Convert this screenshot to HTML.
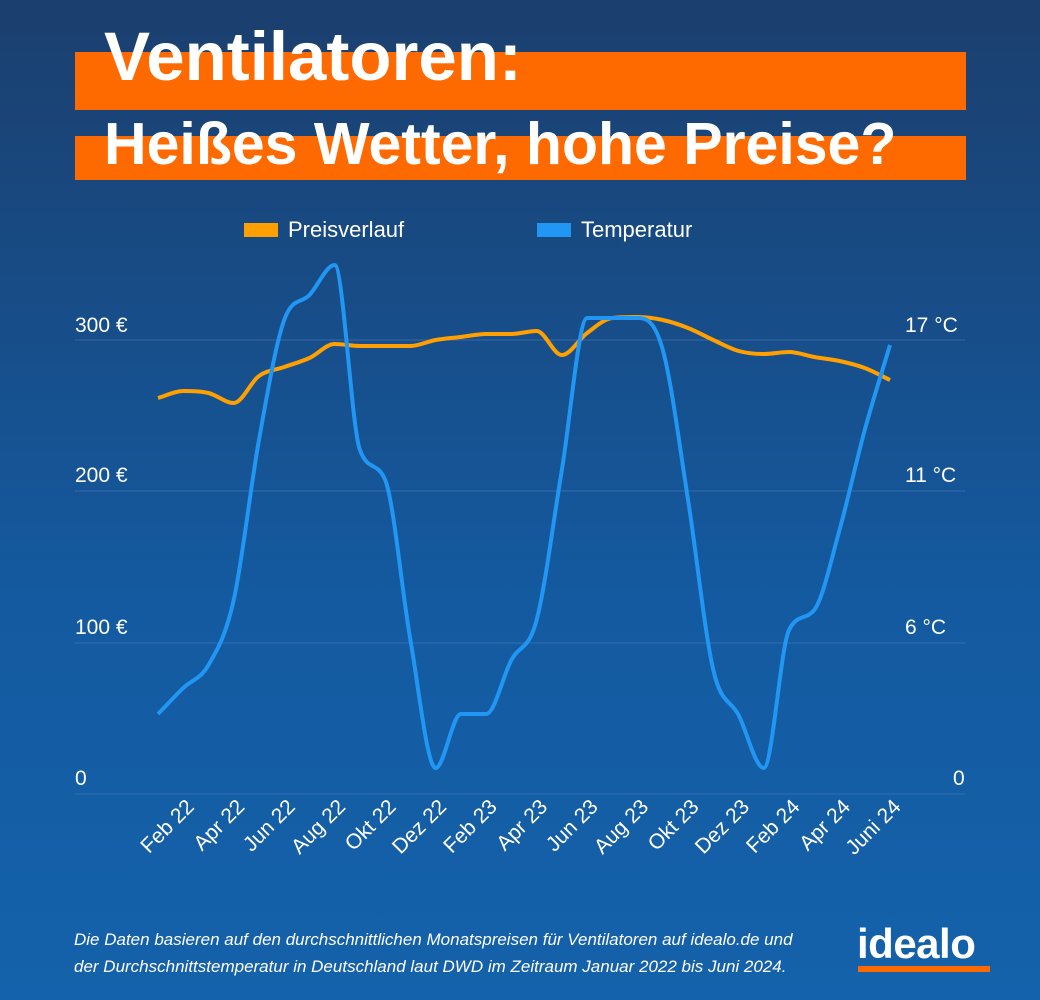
<!DOCTYPE html>
<html><head><meta charset="utf-8"><style>
html,body{margin:0;padding:0}
body{width:1040px;height:1000px;overflow:hidden;background:linear-gradient(#1b3f6e,#145aa0 60%,#1462ab);font-family:"Liberation Sans",sans-serif;color:#fff;position:relative}
.bar{position:absolute;left:75px;width:891px;background:#ff6a00}
.t{position:absolute;left:104px;font-weight:bold;white-space:nowrap}
.ax{position:absolute;font-size:21px}
.foot{position:absolute;left:74px;font-style:italic;font-size:17px;line-height:27px;top:926px}
</style></head><body>
<div class="bar" style="top:52px;height:58px"></div>
<div class="bar" style="top:136px;height:44px"></div>
<div class="t" style="top:17px;font-size:69px">Ventilatoren:</div>
<div class="t" style="top:110px;font-size:59px">Heißes Wetter, hohe Preise?</div>
<div style="position:absolute;left:244px;top:223px;width:34px;height:14px;background:#ffa000"></div>
<div class="ax" style="left:288px;top:217px;font-size:22px">Preisverlauf</div>
<div style="position:absolute;left:537px;top:223px;width:34px;height:14px;background:#2196f3"></div>
<div class="ax" style="left:581px;top:217px;font-size:22px">Temperatur</div>
<div class="ax" style="left:75px;top:314px">300 €</div>
<div class="ax" style="left:75px;top:464px">200 €</div>
<div class="ax" style="left:75px;top:616px">100 €</div>
<div class="ax" style="left:75px;top:767px">0</div>
<div class="ax" style="left:905px;top:314px">17 °C</div>
<div class="ax" style="left:905px;top:464px">11 °C</div>
<div class="ax" style="left:905px;top:616px">6 °C</div>
<div class="ax" style="left:953px;top:767px">0</div>
<svg width="1040" height="1000" style="position:absolute;left:0;top:0">
<g stroke="#4a7ab8" stroke-width="1" opacity="0.6">
<line x1="75" x2="965" y1="340" y2="340"/><line x1="75" x2="965" y1="491" y2="491"/>
<line x1="75" x2="965" y1="643" y2="643"/><line x1="75" x2="965" y1="794" y2="794"/>
</g>
<path id="pp" fill="none" stroke="#ffa000" stroke-width="4"/>
<path id="tp" fill="none" stroke="#2196f3" stroke-width="4"/>
<g id="xl" fill="#fff" font-size="21" font-family="Liberation Sans, sans-serif"></g>
</svg>
<div class="foot">Die Daten basieren auf den durchschnittlichen Monatspreisen für Ventilatoren auf idealo.de und<br>der Durchschnittstemperatur in Deutschland laut DWD im Zeitraum Januar 2022 bis Juni 2024.</div>
<div style="position:absolute;left:857px;top:920px;font-weight:bold;font-size:42px;letter-spacing:-0.5px">idealo</div>
<div style="position:absolute;left:858px;top:966px;width:132px;height:6px;background:#ff6a00"></div>
<script>
var X=[];for(var i=0;i<30;i++)X.push(158+i*732/29);
var P=[398,391,393,403,376,367,358,344,346,346,346,340,337,334,334,331,355,333,318,317,320,328,340,351,354,352,357,361,368,380];
var T=[714,688,665,600,440,320,295,265,450,480,640,768,714,714,660,620,470,318,318,318,350,500,670,715,768,630,610,530,430,345];
function sm(Y){var n=Y.length,h=X[1]-X[0],d=[],m=[];
for(var i=0;i<n-1;i++)d.push((Y[i+1]-Y[i])/h);
m[0]=d[0];m[n-1]=d[n-2];
for(var i=1;i<n-1;i++){m[i]=(d[i-1]*d[i]<=0)?0:(d[i-1]+d[i])/2;}
for(var i=0;i<n-1;i++){if(d[i]==0){m[i]=0;m[i+1]=0;continue;}var a=m[i]/d[i],b=m[i+1]/d[i],s=a*a+b*b;if(s>9){var t=3/Math.sqrt(s);m[i]=t*a*d[i];m[i+1]=t*b*d[i];}}
var p="M"+X[0]+","+Y[0];
for(var i=0;i<n-1;i++){p+=" C"+(X[i]+h/3)+","+(Y[i]+m[i]*h/3)+" "+(X[i+1]-h/3)+","+(Y[i+1]-m[i+1]*h/3)+" "+X[i+1]+","+Y[i+1];}
return p;}
document.getElementById("pp").setAttribute("d",sm(P));
document.getElementById("tp").setAttribute("d",sm(T));
var L=["Feb 22","Apr 22","Jun 22","Aug 22","Okt 22","Dez 22","Feb 23","Apr 23","Jun 23","Aug 23","Okt 23","Dez 23","Feb 24","Apr 24","Juni 24"];
var g=document.getElementById("xl"),hh="";
for(var k=0;k<15;k++){var x=X[1+2*k]+12,y=808;hh+='<text text-anchor="end" transform="translate('+x+','+y+') rotate(-45)">'+L[k]+'</text>';}
g.innerHTML=hh;
</script>
</body></html>
